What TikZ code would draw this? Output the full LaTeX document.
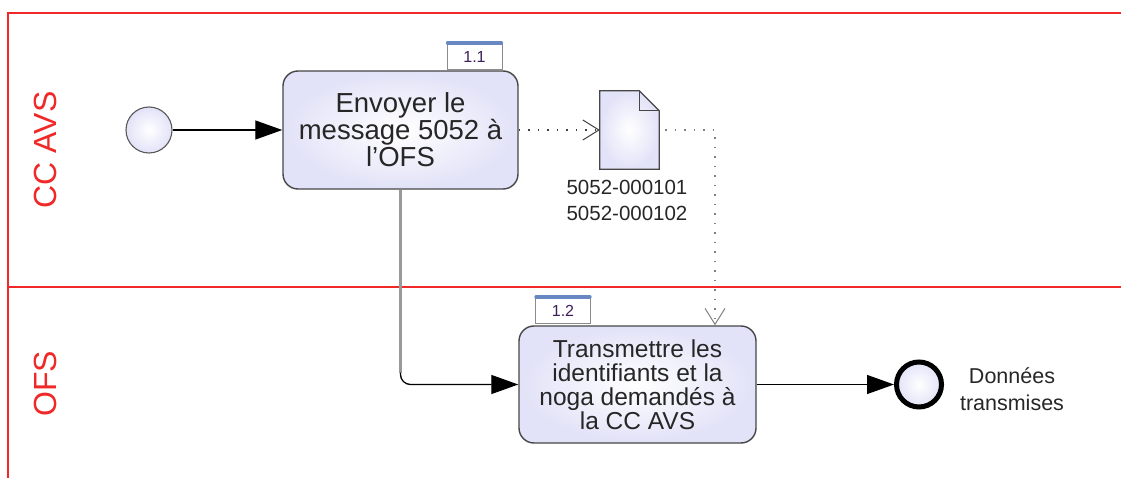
\documentclass[tikz,border=0pt]{standalone}
\usepackage{fontspec}
\setmainfont{Liberation Sans}
\usetikzlibrary{arrows.meta,calc}
\definecolor{lanered}{RGB}{240,40,40}
\definecolor{lav}{RGB}{226,226,248}
\definecolor{tabtop}{RGB}{105,135,195}
\definecolor{bordergray}{RGB}{70,70,70}
\definecolor{tabtext}{RGB}{60,30,90}
\tikzset{
  task/.style={draw=bordergray, line width=1.4pt, rounded corners=15pt, inner color=white, outer color=lav, align=center, text=black!85, inner sep=0pt},
  tabbox/.style={draw=black!45, line width=0.8pt, fill=white, minimum width=55pt, minimum height=26pt, inner sep=0pt, font=\fontsize{16}{16}\selectfont, text=tabtext},
  flow/.style={line width=1.3pt, -{Triangle[length=27pt,width=19pt]}},
  assoc/.style={line width=1.2pt, dash pattern=on 1.5pt off 8pt, -{Straight Barb[length=16pt,width=20pt,line width=1pt]}},
  lanelabel/.style={text=lanered, rotate=90, font=\fontsize{32}{32}\selectfont},
  small/.style={align=center, text=black!85, font=\fontsize{20.5}{26}\selectfont}
}
\begin{document}
\begin{tikzpicture}[x=1pt,y=-1pt]
\useasboundingbox (0,0) rectangle (1121,478);
% pool and lanes
\draw[lanered, line width=1.3pt] (1121,13) -- (8,13) -- (8,478);
\draw[lanered, line width=1.3pt] (8,287) -- (1121,287);
\node[lanelabel] (lane1) at (45,150) {CC AVS};
\node[lanelabel] (lane2) at (45,384) {OFS};
% start event
\node[circle, draw=black!65, line width=1.1pt, inner color=white, outer color=lav, minimum size=46pt, inner sep=0pt] (start) at (149,130) {};
% task 1
\node[tabbox] (tab1) at (474.5,56.5) {1.1};
\draw[tabtop, line width=3.5pt, line cap=round] ($(tab1.north west)+(1,0)$) -- ($(tab1.north east)+(-1,0)$);
\node[task, minimum width=235pt, minimum height=118pt, font=\fontsize{27.5}{27}\selectfont] (t1) at (400.5,130) {Envoyer le\\message 5052 à\\l’OFS};
% task 2
\node[tabbox] (tab2) at (563,310.5) {1.2};
\draw[tabtop, line width=3.5pt, line cap=round] ($(tab2.north west)+(1,0)$) -- ($(tab2.north east)+(-1,0)$);
\node[task, minimum width=237pt, minimum height=117pt, font=\fontsize{24.5}{24}\selectfont] (t2) at (637.5,384.5) {Transmettre les\\identifiants et la\\noga demandés à\\la CC AVS};
% data object
\node[minimum width=59pt, minimum height=78pt, inner sep=0pt] (doc) at (629.5,130) {};
\shade[inner color=white, outer color=lav] (doc.south west) -- (doc.north west) -- ($(doc.north east)+(-20,0)$) -- ($(doc.north east)+(0,20)$) -- (doc.south east) -- cycle;
\draw[bordergray, line width=1.2pt, line join=miter] (doc.south west) -- (doc.north west) -- ($(doc.north east)+(-20,0)$) -- ($(doc.north east)+(0,20)$) -- (doc.south east) -- cycle;
\draw[bordergray, line width=1.1pt] ($(doc.north east)+(-20,0)$) -- ($(doc.north east)+(-20,20)$) -- ($(doc.north east)+(0,20)$);
\node[small] (doclbl) at (627,200) {5052-000101\\5052-000102};
% end event
\node[circle, draw=black, line width=5pt, inner color=white, outer color=lav, minimum size=45pt, inner sep=0pt] (end) at (919,384.5) {};
\node[small, font=\fontsize{21.5}{27}\selectfont] (endlbl) at (1012,389) {Données\\transmises};
% connectors
\draw[flow] (start) -- (t1.west);
\draw[assoc, black!75] (t1.east) -- (doc.west);
\coordinate (bend) at (715,130);
\draw[assoc, black!50] ($(doc.east)+(6,0)$) -- (bend) -- (bend |- t2.north);
\coordinate (vend) at ($(t1.south |- t2.west)+(0,-12)$);
\draw[black!40, line width=2.4pt] (t1.south) -- (vend);
\draw[flow, rounded corners=10pt] (vend) -- (t1.south |- t2.west) -- (t2.west);
\draw[flow] (t2.east) -- (end.west);
\end{tikzpicture}
\end{document}
